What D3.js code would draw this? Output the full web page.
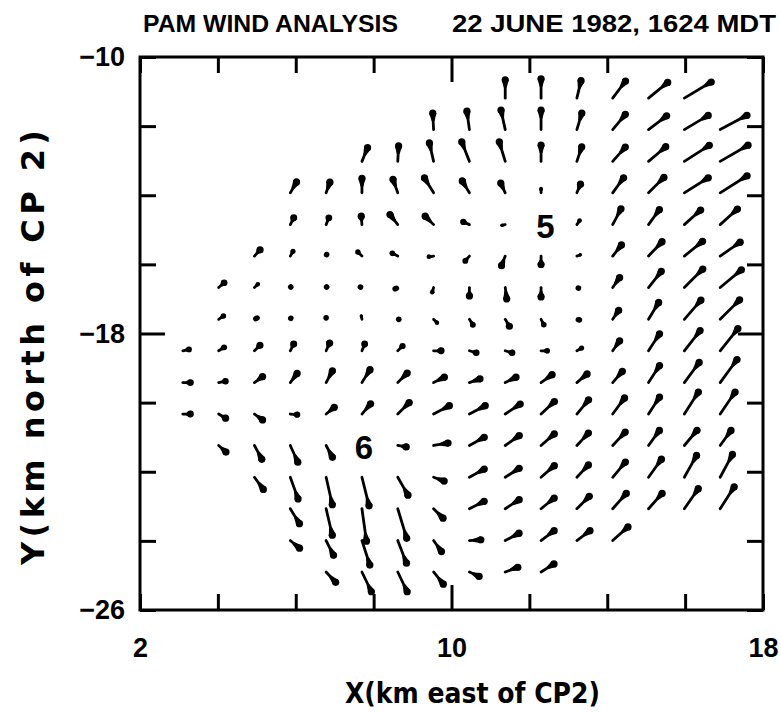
<!DOCTYPE html>
<html><head><meta charset="utf-8">
<script src="https://cdn.jsdelivr.net/npm/d3@7"></script>
<style>html,body{margin:0;padding:0;background:#fff;} svg{display:block;}</style>
</head><body>
<svg id="chart" width="781" height="712"></svg>
<script>
// grid point coordinates (km)
const xGrid = [3.10, 4.02, 4.94, 5.86, 6.78, 7.70, 8.62, 9.54, 10.46, 11.38, 12.30, 13.22, 14.14, 15.06, 15.98, 16.90];
const yGrid = [-11.19, -12.10, -13.02, -13.93, -14.85, -15.76, -16.67, -17.59, -18.50, -19.42, -20.33, -21.24, -22.16, -23.07, -23.99, -24.90];
const n = null;
// east (u) and north (v) wind components, m/s; rows follow yGrid, columns follow xGrid
const U = [
 [n,n,n,n,n,n,n,n,n, 0, 0, 2.5, 7.5, 11, 15, n],
 [n,n,n,n,n,n,n, -0.5, -1.5, -2.5, 0, 3, 7.5, 10.5, 13.5, 15],
 [n,n,n,n,n, 3.5, 0.5, -2.5, -4.5, -3.5, 0, 3, 7.5, 10, 14, 15.5],
 [n,n,n, 4, 2.5, 0, -3, -5.5, -4.5, -3, 0, 2.5, 6.5, 9, 13.5, 15],
 [n,n,n, 2.5, 2, -0.5, -5, -5.5, -4.5, -2.5, n, 2, 5, 6.5, 9.5, 10],
 [n,n, 4, 2, 0.5, -3, -4, -3.5, -3, -2.5, 0, 2.5, 5.5, 8, 10.5, 11.5],
 [n, 4, 2.5, 0.5, 0.5, -1.5, -2, -1, 0, 1, 0, 1.5, 4.5, 7.5, 10.5, 12],
 [n, 3.5, 2, 0.5, 0, -0.5, 1, 2.5, 2.5, 3, 2, 2, 4, 6, 9.5, 11],
 [4.5, 4, 4, 2.5, 2.5, 2, 3.5, 5.5, 5, 5, 4.5, 3.5, 4.5, 6.5, 9, 10],
 [5.5, 5, 5.5, 4.5, 4, 5, 6, 7, 7, 7, 7, 6.5, 6, 6.5, 8.5, 9.5],
 [5.5, 5, 5.5, 5, 5.5, 5.5, 7, 9.5, 9.5, 9, 8, 7, 7, 6.5, 8, 8.5],
 [n, 5, 4.5, 4.5, 4, n, 6, 9, 9, 8.5, 8, 7, 7.5, 6.5, 7.5, 6.5],
 [n, n, 5.5, 4.5, 3.5, 4, 6, 7, 9, 8.5, 8, 7, 7.5, 7.5, 7, 7],
 [n,n,n, 5.5, 3.5, 2.5, 5, 6, 9, 8.5, 8, 7.5, 8, 8, 8, 8],
 [n,n,n, 6, 4.5, 4.5, 5, 5, 7.5, 8.5, 8, 8, 9, n, n, n],
 [n,n,n,n, 6, 5.5, 5.5, 6, 6.5, 8, 8, n,n,n,n,n]
];
const V = [
 [n,n,n,n,n,n,n,n,n, 11, 11.5, 10.5, 10, 9, 9, n],
 [n,n,n,n,n,n,n, 10, 11, 11.5, 11.5, 10, 9, 8, 8, 8],
 [n,n,n,n,n, 8.5, 9.5, 11, 11.5, 11.5, 10, 9, 8.5, 8.5, 9, 9],
 [n,n,n, 7, 7, 9, 8.5, 9, 7.5, 6.5, 3, 6, 9, 9, 8.5, 9.5],
 [n,n,n, 5, 5, 6, 6.5, 5.5, 2, -0.5, n, 3, 9.5, 9, 8.5, 9],
 [n,n, 4.5, 3.5, 1.5, 3, 2, -0.5, -3.5, -6.5, -6, 1, 7, 8.5, 8.5, 8],
 [n, 3.5, 2.5, 0.5, 0.5, 0.5, -1, -3.5, -6, -7.5, -6.5, -0.5, 6.5, 9.5, 10.5, 10],
 [n, 2.5, 1, 1, 1.5, 2.5, 0, -2.5, -4, -5, -4, -0.5, 6, 10, 11, 11],
 [1, 2.5, 4, 5, 5.5, 5, 3.5, 0, -1.5, -1.5, 0, 2, 6.5, 10, 11.5, 12.5],
 [0, 1, 4, 6, 7.5, 8, 6, 3.5, 2.5, 3.5, 5, 5.5, 7, 10, 11.5, 13],
 [0, -3, -4, -0.5, 4.5, 6.5, 7, 5, 5, 6, 7.5, 8.5, 9.5, 10, 12.5, 12.5],
 [n, -4.5, -8.5, -10, -7.5, n, -1, 1.5, 5, 6, 7, 7.5, 8, 9, 9, 9],
 [n, n, -7.5, -12.5, -15.5, -16, -10.5, -2.5, 5, 5.5, 7, 7.5, 9, 10.5, 12.5, 13],
 [n,n,n, -9, -15, -18, -16.5, -6, 4.5, 5.5, 6.5, 7.5, 9, 9, 11.5, 12.5],
 [n,n,n, -5, -9, -14, -13, -7, 0.5, 4.5, 6, 6, 8, n, n, n],
 [n,n,n,n, -6.5, -11.5, -11.5, -7.5, -3, 3, 5, n,n,n,n,n]
];
const centerLabels = ["5", "6"];
const centerX = [12.41, 7.75];
const centerY = [-14.90, -21.31];
const xTicks = [2, 4, 6, 8, 10, 12, 14, 16, 18];
const yTicks = [-26, -24, -22, -20, -18, -16, -14, -12, -10];
const xLabelled = [2, 10, 18];
const yLabelled = [-26, -18, -10];
const xMajor = [10];
const yMajor = [-18];
const titleLeft = "PAM WIND ANALYSIS";
const titleRight = "22 JUNE 1982, 1624 MDT";
const xTitle = "X(km east of CP2)";
const yTitle = "Y(km north of CP 2)";

const FONT = "'Liberation Sans', Arial, sans-serif";
const FONT2 = "'DejaVu Sans', 'Liberation Sans', sans-serif";
const svg = d3.select("#chart");
svg.append("rect").attr("width", 781).attr("height", 712).attr("fill", "#fff");

const x = d3.scaleLinear().domain([2, 18]).range([140, 763]);
const y = d3.scaleLinear().domain([-26, -10]).range([610, 57]);
const speed = d3.scaleLinear().domain([0, 1]).range([0, 2]);

function styleAxis(g, majors, vertical, sign) {
  g.select(".domain").remove();
  g.selectAll(".tick line").attr("stroke", "#000").attr("stroke-width", 3)
    .each(function(d) {
      if (majors.includes(d)) {
        d3.select(this).attr(vertical ? "x2" : "y2", sign * 25);
      }
    });
  g.selectAll(".tick text").attr("fill", "#000").attr("font-family", FONT)
    .attr("font-size", 27).attr("font-weight", "bold");
}

const fmtMinus = v => (v < 0 ? "\u2212" + Math.abs(v) : String(v));

const gB = svg.append("g").attr("transform", "translate(0,610)")
  .call(d3.axisBottom(x).tickValues(xTicks).tickSizeInner(-16).tickSizeOuter(0).tickPadding(28)
    .tickFormat(d => xLabelled.includes(d) ? String(d) : ""));
styleAxis(gB, xMajor, false, -1);
const gT = svg.append("g").attr("transform", "translate(0,57)")
  .call(d3.axisTop(x).tickValues(xTicks).tickSizeInner(-16).tickSizeOuter(0).tickFormat(""));
styleAxis(gT, xMajor, false, 1);
const gL = svg.append("g").attr("transform", "translate(140,0)")
  .call(d3.axisLeft(y).tickValues(yTicks).tickSizeInner(-16).tickSizeOuter(0).tickPadding(15)
    .tickFormat(d => yLabelled.includes(d) ? fmtMinus(d) : ""));
styleAxis(gL, yMajor, true, 1);
const gR = svg.append("g").attr("transform", "translate(763,0)")
  .call(d3.axisRight(y).tickValues(yTicks).tickSizeInner(-16).tickSizeOuter(0).tickFormat(""));
styleAxis(gR, yMajor, true, -1);

svg.append("rect").attr("x", x(2)).attr("y", y(-10))
  .attr("width", x(18) - x(2)).attr("height", y(-26) - y(-10))
  .attr("fill", "none").attr("stroke", "#000").attr("stroke-width", 3);

// vectors
const vecs = [];
U.forEach((row, j) => row.forEach((u, i) => {
  const v = V[j][i];
  if (u !== null && v !== null) vecs.push({ x: xGrid[i], y: yGrid[j], u, v });
}));
const gv = svg.append("g");
vecs.forEach(d => {
  const x0 = x(d.x), y0 = y(d.y);
  const dx = speed(d.u), dy = -speed(d.v);
  const L = Math.hypot(dx, dy);
  const ang = Math.atan2(dy, dx) * 180 / Math.PI;
  if (L < 5) {
    gv.append("ellipse").attr("cx", x0 + dx / 2).attr("cy", y0 + dy / 2)
      .attr("rx", Math.max(2.8, L / 2 + 1.3)).attr("ry", 2.8)
      .attr("transform", `rotate(${ang},${x0 + dx / 2},${y0 + dy / 2})`)
      .attr("fill", "#000");
    return;
  }
  const ux = dx / L, uy = dy / L, px = -uy, py = ux;
  const r = Math.min(3.6, L / 3.2);
  const cx = x0 + dx - ux * r, cy = y0 + dy - uy * r;
  const taper = Math.min(8, L - 2 * r);
  const bx = cx - ux * taper, by = cy - uy * taper;
  gv.append("line").attr("x1", x0).attr("y1", y0).attr("x2", cx).attr("y2", cy)
    .attr("stroke", "#000").attr("stroke-width", 2.8).attr("stroke-linecap", "round");
  gv.append("path")
    .attr("d", `M${cx + px * r},${cy + py * r} L${bx + px * 1.4},${by + py * 1.4} L${bx - px * 1.4},${by - py * 1.4} L${cx - px * r},${cy - py * r} Z`)
    .attr("fill", "#000");
  gv.append("circle").attr("cx", cx).attr("cy", cy).attr("r", r).attr("fill", "#000");
});

// centre labels
svg.append("g").selectAll("text").data(centerLabels).join("text")
  .attr("x", (d, i) => x(centerX[i])).attr("y", (d, i) => y(centerY[i]))
  .attr("text-anchor", "middle").attr("dominant-baseline", "central")
  .attr("font-family", FONT).attr("font-weight", "bold").attr("font-size", 33)
  .text(d => d);

// titles
svg.append("text").attr("x", 143).attr("y", 32).attr("font-family", FONT)
  .attr("font-weight", "bold").attr("font-size", 24)
  .attr("textLength", 255).attr("lengthAdjust", "spacingAndGlyphs").text(titleLeft);
svg.append("text").attr("x", 452).attr("y", 32).attr("font-family", FONT)
  .attr("font-weight", "bold").attr("font-size", 24)
  .attr("textLength", 324).attr("lengthAdjust", "spacingAndGlyphs").text(titleRight);

svg.append("text").attr("x", 345).attr("y", 703).attr("font-family", FONT2)
  .attr("font-weight", "bold").attr("font-size", 28)
  .attr("textLength", 255).attr("lengthAdjust", "spacingAndGlyphs").text(xTitle);
svg.append("text").attr("transform", "translate(44,565) rotate(-90)")
  .attr("font-family", FONT2).attr("font-weight", "bold").attr("font-size", 32)
  .attr("textLength", 435).attr("lengthAdjust", "spacing").text(yTitle);
</script>
</body></html>
